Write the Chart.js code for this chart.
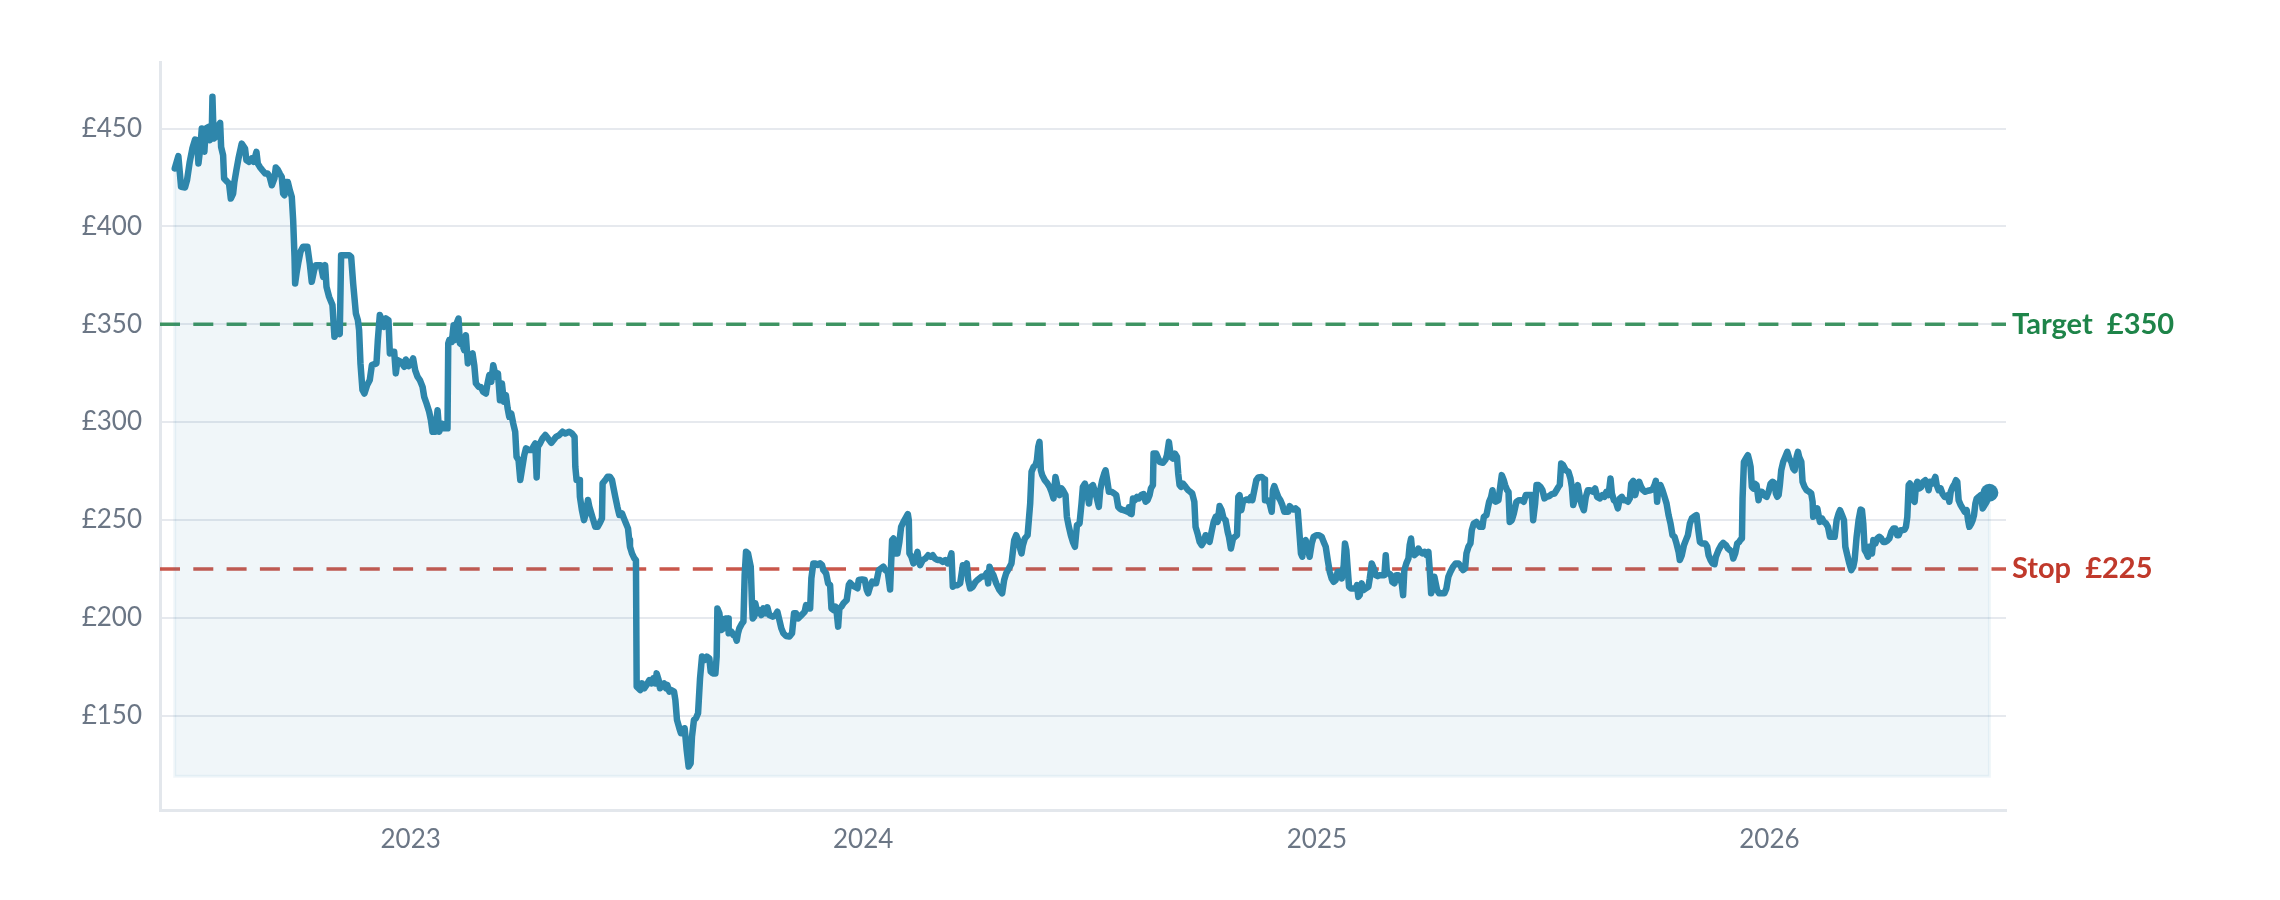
<!DOCTYPE html>
<html>
<head>
<meta charset="utf-8">
<script src="https://cdn.jsdelivr.net/npm/chart.js@4.4.1/dist/chart.umd.min.js"></script>
<style>
    html, body { margin: 0; padding: 0; background: #ffffff; }
    #wrap { width: 2280px; height: 900px; }
</style>
</head>
<body>
<div id="wrap"><canvas id="chart" width="2280" height="900"></canvas></div>
<script>
"use strict";

// days counted from 1 Jan 2023 (negative = 2022)
var days = [
    -190.3,-187.4,-185.2,-182.0,-180.4,-178.2,-176.1,-173.9,-172.3,-171.2,-169.6,-168.5,-167.5,-166.4,-165.3,-163.2,-162.1,-160.5,-159.9,-158.9,
    -157.2,-155.6,-153.7,-152.9,-151.3,-150.5,-147.8,-146.5,-145.1,-143.2,-142.2,-140.6,-138.9,-136.3,-133.6,-132.5,-130.3,-128.2,-126.6,-124.4,
    -123.3,-121.7,-119.6,-117.4,-115.3,-113.7,-112.0,-109.9,-108.8,-107.2,-105.6,-104.0,-102.9,-101.8,-100.7,-99.1,-97.5,-95.9,-94.8,-93.7,
    -93.2,-92.1,-90.5,-88.9,-86.8,-83.3,-81.4,-79.8,-77.9,-76.5,-72.5,-70.6,-69.0,-67.9,-65.8,-63.1,-61.5,-59.9,-58.2,-57.2,
    -56.1,-54.5,-49.6,-48.0,-46.4,-44.2,-42.6,-41.6,-40.5,-38.9,-37.3,-35.1,-33.0,-31.3,-27.6,-26.5,-24.9,-23.3,-21.6,-20.0,
    -17.9,-16.8,-14.7,
    -13.3,-12.0,-10.6,-7.9,-5.2,-3.9,-1.7,0.1,2.0,3.6,5.5,7.4,9.6,10.9,12.8,14.9,16.3,17.6,19.8,21.7,
    23.0,25.2,27.0,29.7,30.3,31.1,33.2,34.6,35.9,37.0,38.6,39.7,41.8,43.2,44.5,46.1,47.8,49.9,51.3,52.6,
    54.8,56.6,58.5,60.7,62.0,63.4,65.0,66.6,68.7,70.4,72.0,73.6,75.2,76.8,78.2,79.5,81.1,82.7,84.3,85.4,
    87.0,88.4,89.7,91.6,93.0,95.6,97.8,98.9,100.5,101.6,102.6,104.3,106.4,108.6,110.7,113.4,115.6,117.2,119.9,122.5,
    124.7,127.9,130.1,132.2,132.8,133.8,136.0,136.5,138.1,139.8,141.4,143.0,144.1,145.7,147.3,148.9,150.8,152.7,154.3,154.8,
    157.0,158.9,160.7,162.4,163.4,165.0,166.7,168.3,170.4,172.0,173.7,175.3,176.3,176.9,178.5,180.4,181.7,182.3,
    185.2,186.6,188.5,190.3,192.5,194.1,195.7,197.3,198.4,200.0,201.1,202.7,204.3,205.9,207.0,208.6,210.2,212.4,213.5,214.8,
    216.7,218.0,219.9,221.0,222.6,224.2,225.8,226.9,228.5,230.1,231.8,233.4,235.0,237.1,238.8,240.9,242.0,243.6,245.8,246.8,
    247.4,249.0,250.6,252.2,253.8,256.0,256.5,258.7,260.3,261.4,263.0,264.0,265.1,267.3,268.4,269.4,270.5,272.1,274.3,275.3,
    275.9,277.0,278.0,279.6,281.3,282.9,284.5,286.1,287.7,289.3,292.0,294.2,295.8,297.4,299.0,300.6,302.8,305.5,307.6,309.2,
    310.9,312.5,315.2,317.8,318.9,320.5,322.2,323.2,324.8,326.5,328.1,330.2,331.8,332.9,335.1,336.7,338.3,339.4,341.0,342.6,
    343.7,344.8,345.8,347.4,349.1,351.7,353.4,354.4,356.1,358.2,360.4,361.4,364.1,366.3,367.9,369.0,370.6,372.2,374.3,375.4,377.6,
    381.3,382.9,384.8,386.7,388.3,389.4,391.0,392.6,394.2,395.6,397.5,399.1,401.0,401.8,402.3,403.9,405.5,407.2,408.8,409.8,
    410.9,413.1,415.2,417.4,419.5,421.1,422.8,424.9,427.1,429.2,431.4,433.0,434.6,436.2,437.3,438.9,441.1,443.2,445.4,447.0,
    448.6,449.7,451.3,453.4,455.6,457.7,460.4,463.1,464.7,465.8,466.9,468.5,470.1,472.3,474.9,477.1,478.7,480.3,482.5,484.6,
    485.7,486.8,488.4,490.0,491.6,492.7,493.8,495.4,497.6,498.6,499.7,500.8,502.4,504.0,505.1,506.2,507.2,508.3,509.4,511.5,
    513.7,515.3,516.9,518.5,520.1,521.8,523.4,525.0,526.1,528.2,529.3,530.9,532.5,534.1,535.8,537.4,539.5,541.1,542.2,543.8,
    545.4,547.1,548.7,550.3,551.9,553.5,555.1,556.2,557.8,559.4,560.5,561.6,563.2,565.3,567.5,569.1,570.7,571.8,
    573.4,575.0,576.6,578.3,579.3,580.4,581.5,582.6,584.2,585.8,587.4,589.3,591.2,592.8,594.4,596.0,597.1,598.7,599.2,601.4,
    604.1,606.8,608.9,610.0,611.6,613.2,614.8,616.5,618.1,619.1,620.2,621.3,622.9,625.1,627.2,628.8,630.4,632.1,633.1,634.7,
    636.4,638.0,639.6,641.2,642.8,644.4,646.0,647.7,649.3,650.9,652.5,654.1,655.7,657.3,659.0,660.0,661.6,663.3,664.9,666.5,
    667.6,668.6,670.0,671.3,672.9,674.6,676.2,677.8,678.9,680.5,682.1,683.7,686.4,688.6,689.1,691.2,692.9,694.5,695.5,696.6,
    698.2,699.8,701.5,703.1,704.7,706.3,707.9,709.0,710.6,712.2,713.8,715.5,717.1,718.1,719.2,720.3,721.9,723.5,725.1,726.8,
    728.4,730.5,732.7,734.8,736.4,738.1,739.7,741.3,742.9,744.5,746.1,747.7,749.3,751.0,752.6,753.6,754.7,755.8,756.9,758.5,
    760.6,762.3,763.3,764.4,765.5,
    767.1,768.7,770.3,772.5,773.6,775.2,776.8,778.4,780.0,781.6,783.8,785.4,786.5,787.5,789.2,790.8,791.8,793.5,795.1,796.7,
    797.8,799.4,800.5,801.5,803.1,804.8,805.8,806.9,808.0,809.6,811.2,812.8,814.4,816.1,817.7,819.3,820.9,822.0,823.1,824.7,
    825.7,826.8,827.9,829.5,831.7,833.8,835.4,837.0,838.7,840.8,843.0,845.1,847.3,848.9,850.5,851.6,853.2,854.8,855.9,857.5,
    859.6,862.3,864.5,865.6,867.7,868.8,869.9,871.5,872.6,873.6,875.2,877.4,879.0,880.1,881.7,882.8,884.4,885.5,886.5,888.2,
    889.8,891.9,894.1,896.2,897.8,899.5,901.1,902.7,904.3,905.4,907.0,908.1,909.7,911.3,912.9,914.5,916.1,918.3,920.4,922.6,
    924.2,925.8,926.9,928.0,929.6,931.7,933.9,935.5,936.6,937.7,939.3,941.4,943.0,944.6,946.3,947.9,949.5,951.1,953.8,955.4,
    957.0,959.2,
    961.3,962.9,964.5,966.2,967.8,968.9,970.5,972.1,973.7,975.3,976.9,978.5,980.1,981.8,983.4,984.5,986.1,987.7,989.3,990.9,
    992.5,994.1,995.8,997.9,1000.1,1001.7,1003.3,1004.4,1005.4,1006.5,1008.1,1009.7,1011.4,1013.0,1014.6,1016.2,1017.8,1019.4,1021.0,1022.7,
    1023.7,1025.3,1027.0,1028.6,1030.2,1031.8,1033.4,1035.0,1037.2,1038.8,1039.9,1041.5,1044.2,1045.8,1046.9,1048.5,1050.1,1051.7,1052.8,1054.9,
    1057.1,1058.7,1060.9,1062.5,1064.1,1065.7,1066.8,1068.4,1070.0,1071.6,1072.7,1073.8,1074.3,1075.4,1077.0,1078.6,1079.7,1080.8,1081.8,1082.9,
    1084.0,1085.6,1087.2,1088.3,1089.9,1091.5,1093.7,1095.3,1096.9,1098.5,1100.1,1101.2,1102.3,1103.4,1104.4,1105.5,1107.1,1108.7,1110.4,1112.0,
    1113.6,1115.2,1116.3,1117.9,1119.0,1120.0,1121.7,1122.7,1124.3,1126.0,1128.1,1129.7,1130.8,1131.3,1133.0,1134.6,1135.6,1136.7,1138.3,1139.9,
    1141.6,1143.2,1144.8,1146.4,1148.6,1150.2,1151.8,1152.9,
    1154.5,1156.1,1157.2,1158.8,1160.4,1162.0,1163.6,1164.7,1166.3,1167.9,1169.5,1170.6,1171.7,1172.8,1174.4,1175.5,1176.5,1177.6,1178.7,1179.8,
    1181.4,1183.0,1184.6,1186.2,1187.8,1189.4,1191.0,1192.7,1194.3,1195.9,1197.5,1199.1,1200.2,1201.8,1203.4,1205.0,1206.1,1207.2,1208.3,1209.3,
    1210.4,1212.0,1213.1,1214.2,1215.3,1216.9,1218.5,1220.1,1221.7,1223.3,1224.4,1225.5,1227.1,1228.7,1229.8,1230.9,1232.5,1234.1,1235.7,1237.3,
    1238.9,1240.0,1241.1,1242.2,1243.8,1245.4,1246.5,1247.5,1248.6,1250.2,1251.9,1253.5,1255.1,1256.2,1257.2,1258.8,1259.9,1261.0,1262.1,1263.2,
    1264.8,1266.4,1268.0,1269.6,1271.2,1273.4
];

// closing price, GBP
var prices = [
    429.6,435.9,420.2,419.9,423.6,433.0,439.8,444.4,444.0,432.1,440.6,450.0,442.3,438.1,450.0,450.8,444.0,445.7,466.2,444.9,
    445.7,450.8,452.9,440.6,436.4,424.5,422.7,421.9,414.2,416.8,422.7,428.7,434.7,442.3,439.8,433.8,433.0,434.7,433.0,438.1,
    432.1,430.4,428.7,427.0,427.0,425.3,421.0,424.5,430.1,429.0,427.0,425.3,416.8,415.9,422.7,422.7,418.5,415.1,403.2,384.4,
    370.8,375.9,381.9,387.0,389.6,389.6,381.0,371.7,377.6,380.2,380.2,374.2,380.2,369.1,364.0,359.8,343.6,345.3,346.1,345.0,
    385.3,385.3,385.3,384.4,370.8,355.5,352.1,347.0,330.0,316.4,314.6,318.9,321.5,329.1,330.0,341.9,354.7,352.1,348.7,353.0,
    352.1,335.1,335.9,
    335.9,324.9,331.7,330.8,328.3,332.0,328.6,330.0,332.5,326.6,323.2,321.5,318.0,312.9,309.5,305.3,301.0,295.1,295.1,306.1,
    295.1,299.3,296.8,296.8,340.2,341.9,341.0,349.5,341.9,350.4,352.9,340.2,339.3,336.8,344.4,330.0,334.2,335.1,329.1,319.8,
    318.0,318.0,315.5,314.6,319.8,324.0,320.6,329.1,323.2,324.9,311.2,319.8,310.4,313.8,307.0,302.7,304.4,299.3,295.1,282.3,
    280.6,270.4,275.5,283.1,286.6,285.7,285.7,287.4,289.1,271.7,287.4,289.1,291.7,293.4,291.7,289.4,291.1,292.5,293.4,295.1,
    294.2,295.1,294.2,292.5,277.2,270.4,270.4,261.9,255.1,249.9,253.4,260.2,256.8,253.4,249.9,246.5,246.5,248.6,250.8,268.7,
    270.4,272.1,272.1,270.4,267.0,261.9,256.8,252.5,253.4,250.8,248.2,245.7,239.7,236.3,232.9,230.4,229.5,164.8,
    163.1,166.5,164.0,165.7,168.2,166.5,169.1,166.5,171.6,168.2,164.0,165.7,166.5,164.0,165.7,162.3,163.1,162.3,158.0,147.8,
    143.6,141.0,141.0,143.6,132.5,124.0,125.7,139.3,147.8,148.7,151.2,169.1,180.2,178.5,180.2,179.3,172.5,171.6,171.6,180.2,
    204.8,202.3,193.8,194.6,199.7,199.7,192.1,192.9,191.2,191.2,188.3,192.1,194.6,197.2,198.0,221.9,233.8,232.9,226.1,207.4,
    199.7,200.6,207.4,202.3,204.0,201.4,204.8,202.3,205.3,201.4,200.6,201.4,203.1,198.9,194.6,192.1,190.7,190.4,192.1,202.3,
    202.3,199.7,201.4,203.1,206.5,204.8,204.8,220.2,227.8,227.8,227.0,227.8,227.0,224.4,222.7,217.6,216.8,204.8,204.0,205.7,
    202.3,195.5,204.8,205.7,207.4,209.1,216.8,217.9,216.8,215.9,215.1,219.3,219.6,219.3,214.2,212.5,215.9,218.5,217.6,217.6,224.4,
    226.1,224.4,223.5,214.5,239.7,240.5,232.9,232.9,238.8,246.5,249.0,250.8,253.0,249.9,232.9,231.2,227.8,229.5,233.7,229.5,
    226.9,229.5,230.3,232.0,231.2,232.0,230.3,229.5,229.5,228.6,229.5,227.8,229.5,232.9,215.9,216.7,216.7,217.6,226.9,225.2,
    227.8,219.3,215.0,215.9,218.4,219.6,221.0,221.3,223.0,217.6,226.1,223.5,221.8,217.6,214.2,212.5,219.3,222.7,225.2,227.8,
    233.7,239.7,242.2,239.7,235.4,232.9,237.1,240.5,242.2,249.9,258.4,274.6,277.1,278.0,280.5,287.4,289.9,275.4,272.9,270.3,
    268.6,266.9,264.4,261.0,272.0,266.9,262.7,266.1,265.2,262.7,251.6,246.5,242.2,238.8,236.3,247.3,248.2,258.4,266.9,268.6,
    265.2,258.4,266.9,267.8,264.4,261.0,256.7,265.2,270.3,273.7,275.4,271.2,264.4,264.4,263.5,262.7,256.7,255.9,
    255.3,255.0,254.7,254.2,256.4,253.3,253.0,261.0,260.1,261.8,261.0,262.7,263.2,259.3,260.1,262.7,266.1,267.8,283.9,283.9,
    279.7,279.2,280.9,283.1,289.9,282.2,281.4,283.9,282.2,273.7,267.8,266.9,268.6,266.9,265.2,264.4,263.5,259.3,246.5,243.1,
    238.8,237.1,238.8,242.2,240.5,238.8,243.9,249.0,251.6,249.0,257.1,255.0,250.8,249.9,243.9,241.4,235.4,240.5,241.4,242.2,
    261.8,262.7,255.0,259.3,260.1,260.5,260.1,261.8,260.1,265.2,270.3,271.7,272.0,270.7,260.1,260.1,258.4,254.2,265.2,267.3,
    264.4,261.8,260.1,257.6,254.2,254.2,254.2,257.1,255.9,255.3,255.9,255.0,241.4,232.9,231.2,238.8,239.7,235.4,231.2,238.0,
    241.4,242.2,242.2,241.4,238.8,236.3,229.5,223.5,220.1,218.4,219.3,223.5,223.5,220.1,226.9,238.0,234.6,225.2,215.9,215.0,
    215.0,215.0,216.7,210.7,211.6,
    217.6,214.2,215.0,215.9,220.1,227.8,225.2,221.8,221.3,221.8,221.8,221.8,232.0,222.7,222.7,221.8,218.4,217.6,221.8,221.8,
    220.1,217.6,211.6,224.4,227.8,230.3,237.1,240.5,232.9,232.0,232.9,235.4,233.7,232.9,233.7,232.0,233.7,224.4,212.5,215.9,
    221.0,217.6,214.2,212.5,212.5,212.5,215.0,221.0,223.5,226.1,227.8,227.8,226.1,224.4,225.2,232.9,236.3,238.0,244.8,248.2,
    249.0,246.5,246.5,251.6,252.5,255.9,259.3,261.8,265.2,260.1,259.3,260.1,267.8,272.9,270.3,267.8,265.2,264.4,249.0,249.9,
    253.3,259.3,260.1,260.1,259.3,262.7,262.7,262.7,262.7,249.9,258.4,267.8,267.8,266.9,265.2,261.0,261.8,262.2,263.2,263.5,
    265.2,266.9,267.8,278.8,278.0,275.4,274.6,271.2,266.9,257.6,261.0,267.8,261.8,257.6,255.0,261.8,265.2,265.2,264.4,266.1,
    261.8,261.0,
    262.7,261.8,264.4,262.7,271.2,263.5,260.1,259.3,255.9,261.0,261.8,260.1,260.1,259.3,261.0,268.6,270.0,262.7,266.9,269.5,
    266.9,265.2,264.4,264.9,265.2,265.6,267.8,270.0,259.3,266.9,267.8,265.2,261.8,258.4,252.5,248.2,242.2,241.4,238.0,233.7,
    229.5,232.0,237.1,239.7,242.2,248.2,250.8,251.6,252.5,243.9,238.8,238.0,238.0,236.3,232.0,229.5,227.8,227.4,231.2,234.6,
    237.1,238.3,237.1,235.4,234.6,233.7,230.3,232.9,238.0,238.8,240.0,240.5,261.0,279.7,281.4,283.1,280.5,277.1,266.9,266.1,
    268.6,267.8,260.1,264.4,264.4,262.7,261.8,264.4,268.6,269.5,268.8,263.5,261.8,262.7,267.8,275.4,279.7,282.2,284.8,281.4,
    279.7,276.3,275.4,282.2,284.8,282.2,279.7,269.5,266.9,265.2,264.4,263.5,259.3,251.6,252.5,255.9,252.5,249.0,250.8,249.0,
    248.2,246.5,241.4,241.4,241.4,249.9,253.3,255.0,
    252.5,249.9,236.3,232.0,227.8,224.4,226.1,229.5,241.4,249.9,255.3,255.0,248.2,234.6,232.9,231.2,236.3,233.7,232.9,239.7,
    238.0,240.5,241.4,240.5,238.8,238.8,239.4,240.5,243.9,245.6,245.6,242.2,242.2,244.8,244.8,245.1,246.5,251.6,267.8,268.6,
    262.7,260.1,259.3,267.8,269.5,266.1,266.9,269.5,270.3,268.6,265.2,269.5,268.6,270.3,272.0,267.8,265.2,266.1,263.2,261.8,
    261.5,262.7,259.3,264.4,266.9,268.6,270.3,269.5,260.1,257.6,255.9,254.2,255.0,249.9,246.5,248.2,249.9,252.5,258.4,261.0,
    261.8,262.7,255.9,257.6,259.3,263.9
];

var yearTicks = [0, 365, 731, 1096];
var yearLabels = ['2023', '2024', '2025', '2026'];
var priceTicks = [150, 200, 250, 300, 350, 400, 450];
var levelNames = ['Target', 'Stop'];
var levelValues = [350, 225];
var levelColors = ['#1e8449', '#c0392b'];
var levelDashColors = ['rgba(30,132,73,0.85)', 'rgba(192,57,43,0.85)'];
var areaFloor = 119;

var FONT = "'Source Sans Pro', Lato, 'Noto Sans', sans-serif";
var LINE = '#2e86ab';

var points = days.map(function (d, i) { return {x: d, y: prices[i]}; });
var first = days[0];
var last = days[days.length - 1];
// outline of the shaded area (left edge, bottom, right edge)
var areaEdge = [{x: first, y: prices[0]}, {x: first, y: areaFloor}, {x: last, y: areaFloor}, {x: last, y: prices[prices.length - 1]}];

var levelPlugin = {
    id: 'levels',
    beforeDatasetsDraw: function (chart) {
        var ctx = chart.ctx;
        var area = chart.chartArea;
        ctx.save();
        levelValues.forEach(function (v, i) {
            var y = chart.scales.y.getPixelForValue(v);
            ctx.beginPath();
            ctx.setLineDash([20, 13.3]);
            ctx.lineWidth = 3.5;
            ctx.strokeStyle = levelDashColors[i];
            ctx.moveTo(area.left, y);
            ctx.lineTo(area.right, y);
            ctx.stroke();
        });
        ctx.restore();
    },
    afterDraw: function (chart) {
        var ctx = chart.ctx;
        var area = chart.chartArea;
        ctx.save();
        ctx.font = 'bold 29px ' + FONT;
        ctx.textBaseline = 'middle';
        ctx.textAlign = 'left';
        levelValues.forEach(function (v, i) {
            var y = chart.scales.y.getPixelForValue(v);
            ctx.fillStyle = levelColors[i];
            ctx.fillText(levelNames[i] + '  £' + v, area.right + 6, y);
        });
        ctx.restore();
    }
};

new Chart(document.getElementById('chart'), {
    type: 'line',
    data: {
        datasets: [{
            label: 'Price',
            data: points,
            order: 1,
            borderColor: LINE,
            borderWidth: 6.5,
            borderJoinStyle: 'round',
            borderCapStyle: 'round',
            tension: 0,
            fill: {value: areaFloor},
            backgroundColor: 'rgba(46,134,171,0.07)',
            pointRadius: function (c) { return c.dataIndex === prices.length - 1 ? 9 : 0; },
            pointBackgroundColor: LINE,
            pointBorderWidth: 0,
            pointHoverRadius: 0
        }, {
            label: 'Area edge',
            data: areaEdge,
            order: 2,
            borderColor: 'rgba(46,134,171,0.07)',
            borderWidth: 3,
            fill: false,
            tension: 0,
            pointRadius: 0,
            pointHoverRadius: 0
        }]
    },
    options: {
        responsive: false,
        devicePixelRatio: 1,
        animation: false,
        events: [],
        layout: {padding: {top: 62, right: 274, left: 0, bottom: 0}},
        plugins: {
            legend: {display: false},
            tooltip: {enabled: false}
        },
        scales: {
            x: {
                type: 'linear',
                min: -202.2,
                max: 1286.8,
                afterBuildTicks: function (s) {
                    s.ticks = yearTicks.map(function (v) { return {value: v}; });
                },
                afterFit: function (s) { s.height = 90; },
                grid: {display: false, drawTicks: false},
                border: {display: true, color: '#e3e7ec', width: 3},
                ticks: {
                    color: '#6b7685',
                    font: {family: FONT, size: 26},
                    padding: 14,
                    maxRotation: 0,
                    callback: function (v) {
                        var i = yearTicks.indexOf(v);
                        return i < 0 ? '' : yearLabels[i];
                    }
                }
            },
            y: {
                min: 101.8,
                max: 484,
                afterBuildTicks: function (s) {
                    s.ticks = priceTicks.map(function (v) { return {value: v}; });
                },
                afterFit: function (s) { s.width = 160; },
                grid: {color: '#e6e9ee', lineWidth: 2, drawTicks: false},
                border: {display: true, color: '#e3e7ec', width: 3},
                ticks: {
                    color: '#6b7685',
                    font: {family: FONT, size: 26},
                    padding: 18,
                    callback: function (v) { return '£' + v; }
                }
            }
        }
    },
    plugins: [levelPlugin]
});
</script>
</body>
</html>
